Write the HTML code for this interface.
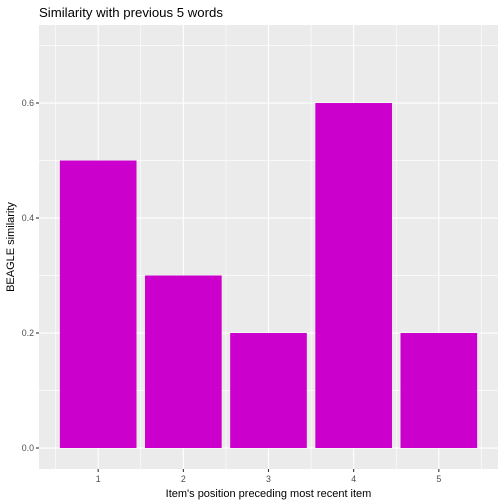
<!DOCTYPE html>
<html><head><style>body{margin:0;background:#fff}svg{display:block;font-family:"Liberation Sans",sans-serif}</style></head>
<body>
<svg id="chart" width="504" height="504">
<rect x="0" y="0" width="504" height="504" fill="#fff"/>
<text x="39" y="17" font-size="13.2" fill="#000">Similarity with previous 5 words</text>
<rect id="panel" x="39" y="25" width="459" height="444" fill="#EBEBEB"/>
<g id="grid"></g><g id="bars"></g><g id="axes"></g>
<text x="268.5" y="497" font-size="11" text-anchor="middle" fill="#000">Item's position preceding most recent item</text>
<text transform="translate(14,247) rotate(-90)" font-size="11" text-anchor="middle" fill="#000">BEAGLE similarity</text>
</svg>
<script>
const categories=[1,2,3,4,5];
const values=[0.5,0.3,0.2,0.6,0.2];
const yTicks=[0,0.2,0.4,0.6];
const yTickLabels=["0.0","0.2","0.4","0.6"];
const NS="http://www.w3.org/2000/svg";
const L=39,R=498,T=25,B=469;
const xmin=0.305,xmax=5.695,ymin=-0.0365,ymax=0.7357;
const x=v=>L+(v-xmin)/(xmax-xmin)*(R-L);
const y=v=>B-(v-ymin)/(ymax-ymin)*(B-T);
function mk(tag,at,parent){const e=document.createElementNS(NS,tag);for(const k in at)e.setAttribute(k,at[k]);document.getElementById(parent).appendChild(e);return e;}
for(let i=0;i<=categories.length;i++){const e=mk('line',{x1:x(i+0.5),x2:x(i+0.5),y1:T,y2:B,stroke:'#fff','stroke-width':0.6},'grid');

}
for(let k=0;k<yTicks.length;k++){const m=yTicks[k]+0.1;const e=mk('line',{x1:L,x2:R,y1:y(m),y2:y(m),stroke:'#fff','stroke-width':0.6},'grid');

}
categories.forEach(c=>{const e=mk('line',{x1:x(c),x2:x(c),y1:T,y2:B,stroke:'#fff','stroke-width':1.1},'grid');

});
yTicks.forEach(t=>{const e=mk('line',{x1:L,x2:R,y1:y(t),y2:y(t),stroke:'#fff','stroke-width':1.1},'grid');

});
categories.forEach((c,i)=>{const e=mk('rect',{x:x(c-0.45),width:x(c+0.45)-x(c-0.45),y:y(values[i]),height:y(0)-y(values[i]),fill:'#CC00CC'},'bars');

});
categories.forEach(c=>{const t=mk('line',{x1:x(c),x2:x(c),y1:B,y2:B+3,stroke:'#333','stroke-width':1.1},'axes');


const l=mk('text',{x:x(c),y:B+13,'font-size':8.8,'text-anchor':'middle',fill:'#4D4D4D'},'axes');l.textContent=c;

});
yTicks.forEach((v,i)=>{const t=mk('line',{x1:L-3,x2:L,y1:y(v),y2:y(v),stroke:'#333','stroke-width':1.1},'axes');


const l=mk('text',{x:L-5,y:y(v)+3,'font-size':8.8,'text-anchor':'end',fill:'#4D4D4D'},'axes');l.textContent=yTickLabels[i];

});
</script>
</body></html>
